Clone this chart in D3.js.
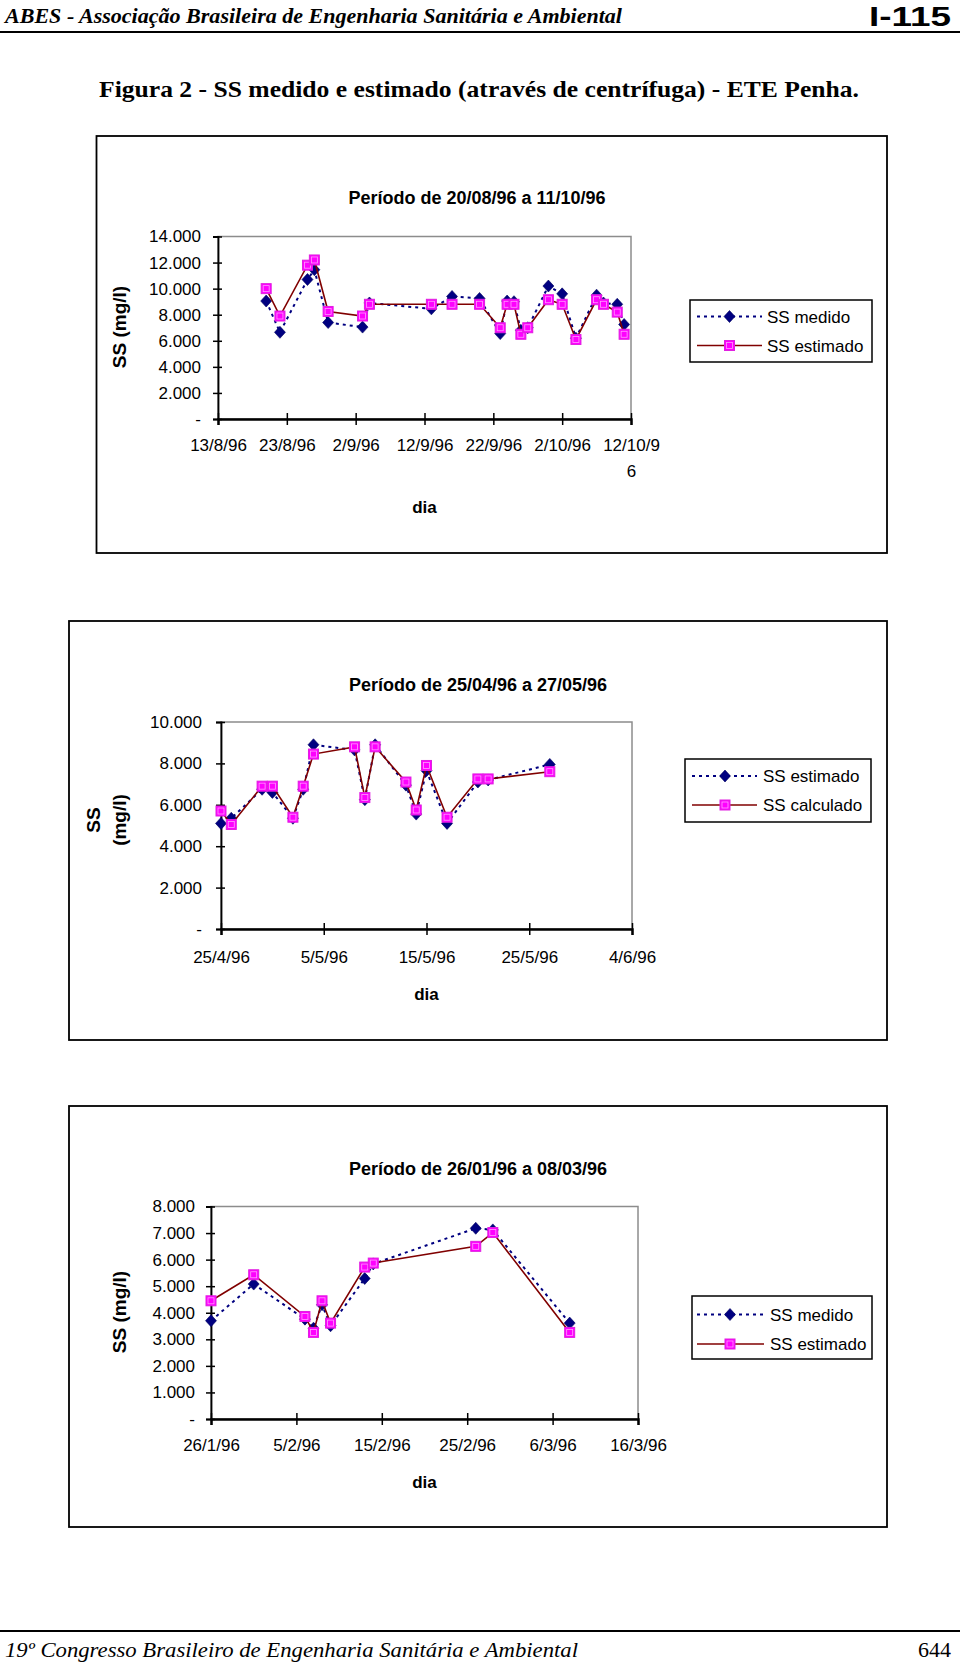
<!DOCTYPE html>
<html><head><meta charset="utf-8">
<script src="https://cdn.jsdelivr.net/npm/d3@7"></script>
<style>
html,body{margin:0;padding:0;background:#fff;}
svg{display:block;}
</style></head>
<body>
<script>
// ---------- DATA ----------
// Chart 1: Período de 20/08/96 a 11/10/96
const dates1 = ["20/8/96","22/8/96","26/8/96","27/8/96","29/8/96","3/9/96","4/9/96","13/9/96","16/9/96","20/9/96","23/9/96","24/9/96","25/9/96","26/9/96","27/9/96","30/9/96","2/10/96","4/10/96","7/10/96","8/10/96","10/10/96","11/10/96"];
const medido1   = [9050,6650,10700,11450,7400,7050,8900,8450,9400,9250,6550,9050,9000,6800,7000,10200,9600,6200,9500,8900,8800,7250];
const estimado1 = [10000,7900,11800,12200,8250,7900,8800,8800,8800,8800,7000,8800,8800,6500,7000,9150,8800,6100,9150,8800,8200,6500];
const xTicks1 = ["13/8/96","23/8/96","2/9/96","12/9/96","22/9/96","2/10/96","12/10/96"];
const xTickLabels1 = ["13/8/96","23/8/96","2/9/96","12/9/96","22/9/96","2/10/96","12/10/9\n6"];
const yTicks1 = [0,2000,4000,6000,8000,10000,12000,14000];
const series1 = ["SS medido","SS estimado"];

// Chart 2: Período de 25/04/96 a 27/05/96
const dates2 = ["25/4/96","26/4/96","29/4/96","30/4/96","2/5/96","3/5/96","4/5/96","8/5/96","9/5/96","10/5/96","13/5/96","14/5/96","15/5/96","17/5/96","20/5/96","21/5/96","27/5/96"];
const estimado2  = [5100,5350,6750,6600,5350,6750,8900,8650,6250,8900,6950,5550,7650,5100,7100,7200,7950];
const calculado2 = [5700,5050,6900,6900,5400,6900,8450,8800,6350,8800,7100,5750,7900,5400,7250,7250,7600];
const xTicks2 = ["25/4/96","5/5/96","15/5/96","25/5/96","4/6/96"];
const xTickLabels2 = ["25/4/96","5/5/96","15/5/96","25/5/96","4/6/96"];
const yTicks2 = [0,2000,4000,6000,8000,10000];
const series2 = ["SS estimado","SS calculado"];

// Chart 3: Período de 26/01/96 a 08/03/96
const dates3 = ["26/1/96","31/1/96","6/2/96","7/2/96","8/2/96","9/2/96","13/2/96","14/2/96","26/2/96","28/2/96","8/3/96"];
const medido3   = [3700,5080,3760,3420,4300,3510,5290,5840,7180,7120,3610];
const estimado3 = [4450,5430,3860,3260,4450,3610,5720,5870,6500,7020,3260];
const xTicks3 = ["26/1/96","5/2/96","15/2/96","25/2/96","6/3/96","16/3/96"];
const xTickLabels3 = ["26/1/96","5/2/96","15/2/96","25/2/96","6/3/96","16/3/96"];
const yTicks3 = [0,1000,2000,3000,4000,5000,6000,7000,8000];
const series3 = ["SS medido","SS estimado"];

const titles = ["Período de 20/08/96 a 11/10/96","Período de 25/04/96 a 27/05/96","Período de 26/01/96 a 08/03/96"];
const yLabels = [["SS (mg/l)"],["SS","(mg/l)"],["SS (mg/l)"]];
const xLabel = "dia";

// ---------- RENDER ----------
const W = 960, H = 1664;
const SANS = "'Liberation Sans', Arial, sans-serif";
const SERIF = "'Liberation Serif', 'Times New Roman', serif";
const parse = d3.timeParse("%d/%m/%y");
const loc = d3.formatLocale({decimal:",", thousands:".", grouping:[3], currency:["R$",""]});
const fmtK = loc.format(",.0f");
const yFmt = v => v === 0 ? "-" : fmtK(v);

const svg = d3.select("body").append("svg").attr("width", W).attr("height", H)
  .style("font-family", SANS);
svg.append("rect").attr("width", W).attr("height", H).attr("fill", "#fff");

// Page header
svg.append("text").attr("x", 5).attr("y", 23)
  .attr("font-family", SERIF).attr("font-style","italic").attr("font-weight","bold")
  .attr("font-size", 21).attr("textLength", 617).attr("lengthAdjust","spacingAndGlyphs")
  .text("ABES - Associação Brasileira de Engenharia Sanitária e Ambiental");
svg.append("text").attr("x", 951).attr("y", 26).attr("text-anchor","end")
  .attr("font-family", SANS).attr("font-weight","bold")
  .attr("font-size", 28).attr("textLength", 82).attr("lengthAdjust","spacingAndGlyphs")
  .text("I-115");
svg.append("line").attr("x1",0).attr("x2",960).attr("y1",32).attr("y2",32)
  .attr("stroke","#000").attr("stroke-width",2);

// Figure title
svg.append("text").attr("x", 99).attr("y", 97)
  .attr("font-family", SERIF).attr("font-weight","bold")
  .attr("font-size", 24).attr("textLength", 760).attr("lengthAdjust","spacingAndGlyphs")
  .text("Figura 2 - SS medido e estimado (através de centrífuga) - ETE Penha.");

// Footer
svg.append("line").attr("x1",0).attr("x2",960).attr("y1",1631).attr("y2",1631)
  .attr("stroke","#000").attr("stroke-width",2);
svg.append("text").attr("x", 5).attr("y", 1657)
  .attr("font-family", SERIF).attr("font-style","italic")
  .attr("font-size", 22).attr("textLength", 573).attr("lengthAdjust","spacingAndGlyphs")
  .text("19º Congresso Brasileiro de Engenharia Sanitária e Ambiental");
svg.append("text").attr("x", 951).attr("y", 1657).attr("text-anchor","end")
  .attr("font-family", SERIF).attr("font-size", 22)
  .text("644");

function diamond(g, x, y) {
  g.append("path").attr("d", `M${x},${y-6}L${x+5.5},${y}L${x},${y+6}L${x-5.5},${y}Z`)
    .attr("fill","#000080").attr("stroke","#000060").attr("stroke-width",0.6);
}
function square(g, x, y) {
  g.append("rect").attr("x", x-5).attr("y", y-5).attr("width",10).attr("height",10)
    .attr("fill","#ff00ff").attr("stroke","#e020e0").attr("stroke-width",1);
  g.append("rect").attr("x", x-3).attr("y", y-3).attr("width",6).attr("height",6)
    .attr("fill","none").attr("stroke","#ff9cff").attr("stroke-width",0.8);
}

function drawChart(cfg) {
  const g = svg.append("g");
  // outer frame
  g.append("rect").attr("x", cfg.frame[0]).attr("y", cfg.frame[1])
    .attr("width", cfg.frame[2]-cfg.frame[0]).attr("height", cfg.frame[3]-cfg.frame[1])
    .attr("fill","#fff").attr("stroke","#000").attr("stroke-width",1.8);

  const x = d3.scaleTime().domain([parse(cfg.xTicks[0]), parse(cfg.xTicks[cfg.xTicks.length-1])]).range(cfg.xr);
  const y = d3.scaleLinear().domain([0, d3.max(cfg.yTicks)]).range(cfg.yr);

  // plot area border (grey)
  g.append("rect").attr("x", cfg.xr[0]).attr("y", cfg.yr[1])
    .attr("width", cfg.xr[1]-cfg.xr[0]).attr("height", cfg.yr[0]-cfg.yr[1])
    .attr("fill","none").attr("stroke","#8c8c8c").attr("stroke-width",1.5);

  // title
  g.append("text").attr("x", cfg.titleX).attr("y", cfg.titleY + 6.5).attr("text-anchor","middle")
    .attr("font-weight","bold").attr("font-size", 18).text(cfg.title);

  // y axis
  const ya = g.append("g").attr("transform", `translate(${cfg.xr[0]},0)`)
    .call(d3.axisLeft(y).tickValues(cfg.yTicks).tickFormat(yFmt).tickSize(5).tickPadding(0));
  ya.select(".domain").attr("stroke","#000").attr("stroke-width",1.8);
  ya.selectAll(".tick line").attr("x1",-5).attr("x2",4).attr("stroke","#000").attr("stroke-width",1.5);
  ya.selectAll(".tick text").attr("x", -cfg.yLabelGap).attr("font-size",17).attr("font-family",SANS).attr("fill","#000");

  // x axis
  const xTickDates = cfg.xTicks.map(parse);
  const xa = g.append("g").attr("transform", `translate(0,${cfg.yr[0]})`)
    .call(d3.axisBottom(x).tickValues(xTickDates).tickFormat(() => "").tickSize(6));
  xa.select(".domain").attr("stroke","#000").attr("stroke-width",2.4);
  xa.selectAll(".tick line").attr("y1",-6).attr("y2",6).attr("stroke","#000").attr("stroke-width",1.5);
  xa.selectAll(".tick").each(function(d, i) {
    const lines = cfg.xTickLabels[i].split("\n");
    const t = d3.select(this).append("text").attr("fill","#000").attr("font-size",17)
      .attr("font-family",SANS).attr("text-anchor","middle");
    lines.forEach((ln, k) => t.append("tspan").attr("x",0).attr("y", cfg.xLabelDy + k*26).text(ln));
  });

  // axis titles
  g.append("text").attr("x", (cfg.xr[0]+cfg.xr[1])/2).attr("y", cfg.diaY + 6)
    .attr("text-anchor","middle").attr("font-weight","bold").attr("font-size",17).text(xLabel);
  cfg.yLabel.forEach((lab, k) => {
    const lx = cfg.yLabelX[k];
    g.append("text").attr("transform", `translate(${lx + 6.5},${cfg.yLabelY}) rotate(-90)`)
      .attr("text-anchor","middle").attr("font-weight","bold").attr("font-size",19).text(lab);
  });

  // series
  const d1 = cfg.dates.map((d,i) => ({x: parse(d), y: cfg.s1[i]}));
  const d2 = cfg.dates.map((d,i) => ({x: parse(d), y: cfg.s2[i]}));
  const line = d3.line().x(d => x(d.x)).y(d => y(d.y));
  g.append("path").datum(d1).attr("d", line).attr("fill","none")
    .attr("stroke","#000080").attr("stroke-width",2).attr("stroke-dasharray","3,4");
  const m1 = g.append("g");
  d1.forEach(d => diamond(m1, x(d.x), y(d.y)));
  g.append("path").datum(d2).attr("d", line).attr("fill","none")
    .attr("stroke","#800000").attr("stroke-width",1.6);
  const m2 = g.append("g");
  d2.forEach(d => square(m2, x(d.x), y(d.y)));

  // legend
  const L = cfg.legend;
  g.append("rect").attr("x", L.box[0]).attr("y", L.box[1])
    .attr("width", L.box[2]-L.box[0]).attr("height", L.box[3]-L.box[1])
    .attr("fill","#fff").attr("stroke","#000").attr("stroke-width",1.5);
  const lg = g.append("g");
  lg.append("line").attr("x1", L.line[0]).attr("x2", L.line[1]).attr("y1", L.ys[0]).attr("y2", L.ys[0])
    .attr("stroke","#000080").attr("stroke-width",2).attr("stroke-dasharray","3,4");
  diamond(lg, L.mark, L.ys[0]);
  lg.append("line").attr("x1", L.line[0]).attr("x2", L.line[1]).attr("y1", L.ys[1]).attr("y2", L.ys[1])
    .attr("stroke","#800000").attr("stroke-width",1.6);
  square(lg, L.mark, L.ys[1]);
  cfg.series.forEach((s, k) => {
    lg.append("text").attr("x", L.text).attr("y", L.ys[k] + 6).attr("font-size",17).text(s);
  });
}

drawChart({
  frame:[96.5,136,887,553], xr:[218,631], yr:[419,236.5],
  title: titles[0], titleX:477, titleY:197,
  xTicks:xTicks1, xTickLabels:xTickLabels1, yTicks:yTicks1, xLabelDy:32,
  yLabelGap:17, diaY:507, yLabel:yLabels[0], yLabelX:[119], yLabelY:327,
  dates:dates1, s1:medido1, s2:estimado1, series:series1,
  legend:{box:[690,300,872,362], ys:[316.5,345.5], line:[697,762], mark:729.5, text:767}
});
drawChart({
  frame:[69,621,887,1040], xr:[221,632], yr:[929,722],
  title: titles[1], titleX:478, titleY:684,
  xTicks:xTicks2, xTickLabels:xTickLabels2, yTicks:yTicks2, xLabelDy:34,
  yLabelGap:19, diaY:994, yLabel:yLabels[1], yLabelX:[93,119], yLabelY:820,
  dates:dates2, s1:estimado2, s2:calculado2, series:series2,
  legend:{box:[685,759,871,822], ys:[776,805], line:[692,757], mark:725, text:763}
});
drawChart({
  frame:[69,1106,887,1527], xr:[211,638], yr:[1419,1206.5],
  title: titles[2], titleX:478, titleY:1168,
  xTicks:xTicks3, xTickLabels:xTickLabels3, yTicks:yTicks3, xLabelDy:32,
  yLabelGap:16, diaY:1482, yLabel:yLabels[2], yLabelX:[119], yLabelY:1312,
  dates:dates3, s1:medido3, s2:estimado3, series:series3,
  legend:{box:[692,1296,872,1359], ys:[1314.5,1344], line:[697,764], mark:730, text:770}
});
</script>
</body></html>
